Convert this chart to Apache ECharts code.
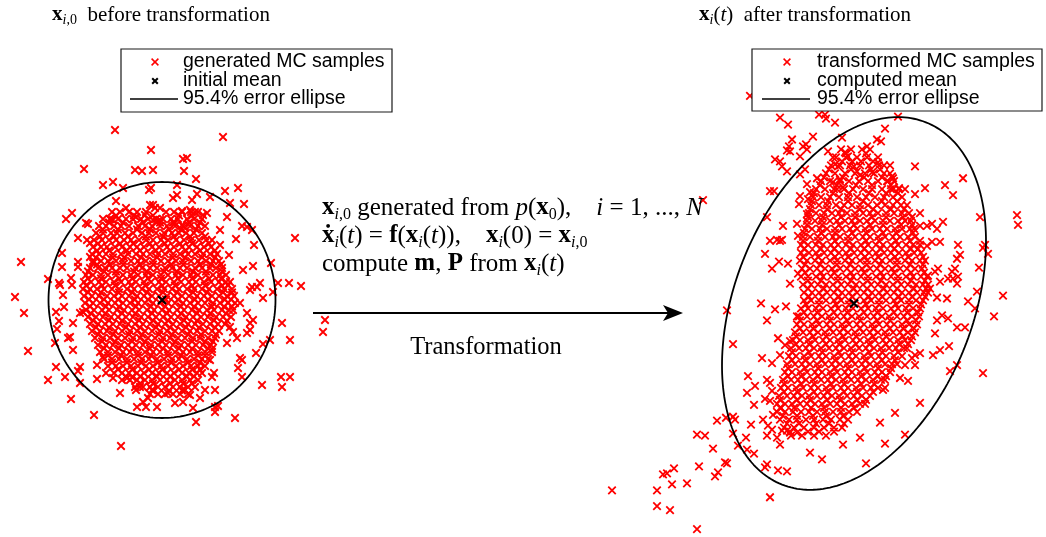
<!DOCTYPE html>
<html>
<head>
<meta charset="utf-8">
<title>Monte Carlo propagation of an initial distribution</title>
<script src="https://cdn.jsdelivr.net/npm/echarts@6/dist/echarts.min.js"></script>
<style>
  html, body { margin: 0; padding: 0; background: #fff; }
  #chart { width: 1046px; height: 537px; }
</style>
</head>
<body>
<div id="chart"></div>
<script>
// ---------------------------------------------------------------------------
// Samples x_{i,0} drawn from p(x0) (state units, mean near the origin)
// ---------------------------------------------------------------------------
const initialSamples = [
  [-4.7,17.0],[-1.1,15.0],[-7.8,13.1],[-2.7,13.0],[-2.0,12.9],[-0.9,13.0],[-5.9,11.5],[-4.9,11.8],[-3.9,11.2],[-1.3,11.0],
  [-1.1,11.2],[-4.6,9.9],[-3.6,9.2],[-0.9,9.5],[-0.7,9.2],[-9.6,8.1],[-9.0,8.7],[-7.6,7.7],[-7.4,7.6],[-5.2,8.1],
  [-4.9,8.0],[-2.6,8.3],[-1.7,8.5],[-0.9,8.0],[-8.4,6.2],[-7.5,6.0],[-7.2,5.7],[-14.1,3.8],[-10.0,4.7],[-10.0,3.3],
  [-8.4,3.8],[-8.4,3.3],[-9.1,2.2],[-11.4,2.1],[-10.3,1.7],[-7.2,4.3],[-6.9,3.7],
  [6.1,16.3],[2.1,14.1],[2.5,14.2],[2.2,12.9],[3.4,12.1],[1.5,11.5],[6.3,10.9],[7.6,11.2],[1.1,10.2],[1.5,10.5],
  [3.0,10.0],[3.5,10.6],[4.8,10.3],[6.8,9.7],[8.2,9.6],[2.0,8.9],[2.8,9.0],[3.3,8.8],[4.1,8.5],[4.5,8.7],
  [6.5,8.3],[8.0,7.4],[8.5,7.3],[9.0,7.0],[5.8,7.0],[7.4,6.1],[9.2,5.5],[13.3,6.2],[5.8,5.5],[6.7,4.5],
  [9.1,3.4],[10.9,3.7],[8.1,3.0],[9.8,1.7],[9.0,1.3],[11.6,1.7],[12.7,1.7],[13.9,1.4],[-0.2,9.2],[-1.2,9.5],
  [-0.2,8.0],[-0.5,7.8],[1.3,7.7],[2.0,7.5],[2.3,7.2],
  [-14.7,0.3],[-13.8,-1.3],[-13.4,-5.1],[-11.4,-8.0],[-10.6,-6.7],[-9.7,-7.7],[-9.1,-9.9],[-6.8,-11.5],[-4.1,-14.6],[-8.2,-6.7],
  [-8.4,-7.1],[-8.2,-8.3],[-8.9,-5.0],[-9.4,-3.8],[-9.2,-3.7],[-10.7,-4.3],[-10.5,-2.9],[-10.3,-2.1],[-8.9,-2.3],[-10.6,-1.2],
  [-9.8,-0.7],[-10.2,1.5],[-9.9,0.5],[-9.0,1.5],[-8.2,-1.3],[-7.9,-1.2],[-6.5,-7.9],[-5.6,-7.3],[-4.9,-7.8],[-4.2,-9.3],
  [-6.5,-6.5],[-5.9,-5.7],[-2.6,-9.0],[-2.2,-8.7],[-1.0,-9.0],[-2.5,-10.7],[-1.9,-10.2],[-1.4,-9.8],[-1.6,-10.7],[-3.5,-7.8],
  [-3.0,-7.7],
  [8.8,1.0],[9.5,1.3],[10.1,0.2],[11.1,0.8],[12.0,-2.3],[12.8,-4.0],[10.8,-4.0],[10.1,-4.4],[9.4,-5.3],[7.8,-5.8],
  [8.0,-6.0],[7.6,-6.8],[8.0,-7.7],[10.0,-8.5],[11.9,-7.7],[12.8,-7.7],[12.0,-8.7],[7.3,-11.8],[3.4,-12.2],[5.3,-10.7],
  [5.3,-11.2],[5.6,-10.6],[3.1,-10.8],[1.3,-10.3],[2.1,-10.2],[-0.5,-10.7],[0.6,-9.3],[2.3,-9.0],[2.8,-9.5],[3.8,-9.8],
  [4.3,-9.0],[5.3,-9.0],[5.2,-7.3],[5.0,-7.7],[4.8,-6.0],[5.0,-4.9],[6.5,-4.3],[7.5,-3.8],[8.5,-3.3],[8.8,-3.0],
  [8.5,-1.3],[9.1,-2.0],[8.8,-2.3],[6.8,-2.7],[7.1,-3.2],[7.8,-0.3],[16.3,-2.0],[16.1,-3.2]
];

// Dense centre of the initial cloud, one entry per row: [y, [x, x, ...]]
const initialCoreRows = [
  [8.8,  [-5.0,-4.2,-3.3,-2.5,-1.6,0.4,1.2,2.0,2.9,3.6]],
  [8.45, [-4.6,-2.8,-0.9,1.7,3.0]],
  [8.1,  [-5.9,-5.2,-4.4,-3.6,-2.9,-2.1,-1.4,-0.6,0.1,0.9,1.6,2.5,3.2,4.0]],
  [7.75, [-5.3,-3.9,-1.9,-0.2,1.1,2.7,3.8]],
  [7.4,  [-6.3,-5.6,-4.8,-4.1,-3.3,-2.4,-1.7,-1.0,-0.2,0.5,1.3,2.1,2.8,3.6,4.3]],
  [7.05, [-5.9,-4.4,-2.5,-1.2,0.7,1.9,3.4]],
  [6.7,  [-6.6,-5.9,-5.1,-4.5,-3.7,-2.9,-2.0,-1.3,-0.6,0.2,1.0,1.7,2.4,3.2,4.0]],
  [6.35, [-6.2,-4.8,-3.4,-1.6,0.1,1.2,2.8,4.3]],
  [6.0,  [-6.8,-6.0,-5.3,-4.6,-3.8,-3.1,-2.3,-1.6,-0.9,-0.1,0.6,1.4,2.2,2.9,3.7,4.4,5.0]],
  [5.65, [-6.4,-4.2,-2.9,-1.2,0.3,1.8,3.0,4.7]],
  [5.3,  [-6.9,-6.1,-5.5,-4.7,-4.0,-3.2,-2.5,-1.8,-1.0,-0.3,0.5,1.2,2.0,2.7,3.5,4.2,4.9]],
  [4.95, [-6.5,-5.3,-3.5,-2.2,-0.6,0.8,2.4,3.8,5.3]],
  [4.6,  [-7.0,-6.3,-5.6,-4.9,-4.1,-3.4,-2.6,-1.9,-1.2,-0.4,0.3,1.1,1.8,2.6,3.3,4.1,4.8,5.5]],
  [4.25, [-6.6,-4.9,-3.8,-2.1,-0.5,1.1,2.3,4.0,5.3]],
  [3.9,  [-6.9,-6.1,-5.4,-4.6,-3.9,-3.1,-2.4,-1.6,-0.9,-0.1,0.6,1.4,2.1,2.9,3.6,4.4,5.1,5.7]],
  [3.55, [-6.5,-5.2,-3.9,-2.2,-0.9,0.9,2.1,3.8,4.9,5.9]],
  [3.2,  [-7.2,-6.4,-5.7,-5.0,-4.2,-3.5,-2.7,-2.0,-1.2,-0.5,0.3,1.0,1.8,2.5,3.3,4.0,4.8,5.4,6.0]],
  [2.85, [-7.4,-5.8,-4.6,-2.8,-1.5,0.2,1.5,3.1,4.4,6.0]],
  [2.5,  [-7.6,-6.9,-6.1,-5.4,-4.6,-3.9,-3.1,-2.4,-1.6,-0.9,-0.1,0.6,1.4,2.1,2.9,3.6,4.4,5.1,5.8,6.4]],
  [2.15, [-7.4,-6.1,-4.3,-3.0,-1.4,-0.1,1.6,3.0,4.7,5.9]],
  [1.8,  [-7.8,-7.1,-6.3,-5.6,-4.8,-4.1,-3.3,-2.6,-1.8,-1.1,-0.3,0.4,1.2,1.9,2.7,3.4,4.2,4.9,5.7,6.4,6.8]],
  [1.45, [-7.6,-6.0,-4.7,-3.1,-1.7,0.0,1.3,3.0,4.3,6.0,6.6]],
  [1.1,  [-7.9,-7.2,-6.5,-5.8,-5.0,-4.3,-3.5,-2.8,-2.0,-1.3,-0.5,0.2,1.0,1.7,2.5,3.2,4.0,4.7,5.5,6.2,7.0]],
  [0.75, [-7.4,-6.1,-4.3,-3.0,-1.5,0.1,1.5,3.1,4.5,6.1,7.0]],
  [0.4,  [-7.8,-7.0,-6.3,-5.5,-4.8,-4.0,-3.3,-2.5,-1.8,-1.0,-0.3,0.5,1.2,2.0,2.7,3.5,4.2,5.0,5.7,6.5,7.2]],
  [0.05, [-7.3,-5.8,-4.4,-2.7,-1.4,0.4,1.6,3.3,4.6,6.3,6.9]],
  [-0.3, [-7.7,-6.9,-6.2,-5.4,-4.7,-3.9,-3.2,-2.4,-1.7,-0.9,-0.2,0.6,1.3,2.1,2.8,3.6,4.3,5.1,5.8,6.6,7.3]],
  [-0.65,[-7.2,-5.6,-4.3,-2.6,-1.1,0.3,1.9,3.2,5.0,6.2,7.0]],
  [-1.0, [-7.6,-6.8,-6.0,-5.3,-4.5,-3.8,-3.0,-2.3,-1.5,-0.8,0.0,0.7,1.5,2.2,3.0,3.7,4.5,5.2,6.0,6.7,7.1]],
  [-1.35,[-7.1,-5.7,-4.0,-2.7,-1.0,0.5,1.9,3.5,4.8,6.4]],
  [-1.7, [-7.4,-6.6,-5.9,-5.1,-4.4,-3.6,-2.9,-2.1,-1.4,-0.6,0.1,0.9,1.6,2.4,3.1,3.9,4.6,5.4,6.1,6.9]],
  [-2.05,[-6.9,-5.3,-4.0,-2.3,-0.9,0.6,2.2,3.5,5.2,6.5]],
  [-2.4, [-7.2,-6.4,-5.7,-4.9,-4.2,-3.4,-2.7,-1.9,-1.2,-0.4,0.3,1.1,1.8,2.6,3.3,4.1,4.8,5.6,6.3]],
  [-2.75,[-6.6,-5.3,-3.6,-2.2,-0.6,0.8,2.4,3.7,5.3]],
  [-3.1, [-7.0,-6.2,-5.5,-4.7,-4.0,-3.2,-2.5,-1.7,-1.0,-0.2,0.5,1.3,2.0,2.8,3.5,4.3,5.0,5.7]],
  [-3.45,[-6.4,-4.9,-3.3,-2.0,-0.3,1.0,2.6,3.9,5.4]],
  [-3.8, [-6.7,-5.9,-5.2,-4.4,-3.7,-2.9,-2.2,-1.4,-0.7,0.1,0.8,1.6,2.3,3.1,3.8,4.6,5.3]],
  [-4.15,[-6.0,-4.7,-3.0,-1.7,0.0,1.3,3.0,4.3,5.1]],
  [-4.5, [-6.4,-5.6,-4.9,-4.1,-3.4,-2.6,-1.9,-1.1,-0.4,0.4,1.1,1.9,2.6,3.4,4.1,4.9]],
  [-4.85,[-5.8,-4.3,-3.0,-1.2,0.1,1.7,3.0,4.6]],
  [-5.2, [-6.2,-5.4,-4.7,-3.9,-3.2,-2.4,-1.7,-0.9,-0.2,0.6,1.3,2.1,2.8,3.6,4.3,5.0]],
  [-5.55,[-5.4,-4.1,-2.4,-1.1,0.6,1.9,3.6,4.3]],
  [-5.9, [-5.8,-5.0,-4.3,-3.5,-2.8,-2.0,-1.3,-0.5,0.2,1.0,1.7,2.5,3.2,4.0,4.6]],
  [-6.25,[-5.0,-3.5,-2.1,-0.4,0.9,2.6,3.8]],
  [-6.6, [-5.4,-4.6,-3.9,-3.1,-2.4,-1.6,-0.9,-0.1,0.6,1.4,2.1,2.9,3.6,4.3]],
  [-6.95,[-4.4,-3.0,-1.3,0.0,1.7,3.0,3.8]],
  [-7.3, [-4.8,-4.0,-3.3,-2.5,-1.8,-1.0,-0.3,0.5,1.2,2.0,2.7,3.5,4.0]],
  [-7.65,[-3.6,-2.2,-0.5,0.8,2.5,3.2]],
  [-8.0, [-4.0,-3.2,-2.5,-1.7,-1.0,-0.2,0.5,1.3,2.0,2.8,3.6]],
  [-8.35,[-2.2,-0.9,0.8,2.1,3.0]],
  [-8.7, [-2.7,-1.9,-1.2,-0.4,0.3,1.1,1.8,2.6,3.3]],
  [-9.05,[-0.9,0.7,2.0]],
  [-9.4, [-1.2,-0.4,0.3,1.1,1.8,2.6]]
];

const initialMean = [0.0, 0.0];
const initialCov = [[32.2, 0.0], [0.0, 34.8]];

// ---------------------------------------------------------------------------
// Propagated samples x_i(t)
// ---------------------------------------------------------------------------
const transformedSamples = [
  [-10.4,20.9],[-7.4,18.7],[-6.6,18.0],[-3.5,19.0],[-2.9,19.0],[-2.8,18.6],[-1.9,18.2],[-1.2,16.7],[-6.2,16.5],[-6.5,15.8],
  [-6.7,15.4],[-6.4,15.3],[-5.1,15.8],[-4.7,15.5],[-4.8,16.0],[-4.1,16.8],[-7.9,14.5],[-7.4,14.3],[-7.2,13.8],[-6.7,13.3],
  [-5.4,14.8],[-4.9,13.5],[-5.4,13.0],[-3.7,12.6],[-2.6,15.3],[-2.1,14.7],[-1.9,14.0],[-1.6,13.8],[-0.9,15.2],[-0.6,14.8],
  [-0.2,14.3],[0.0,13.8],[0.3,13.3],[0.6,12.9],[1.3,15.8],[-8.4,11.3],[-8.0,11.3],[-5.4,10.8],[-4.6,10.5],[-4.4,11.2],
  [-4.7,12.0],[-2.1,12.2],[-1.4,12.5],[-1.7,11.5],[-1.1,11.7],[-5.5,10.0],[-4.7,9.0],[-8.7,8.7],[-7.1,7.8],[-7.7,6.4],
  [-7.2,6.4],[-8.4,6.3],[-5.7,8.0],[-5.6,6.8],[-15.1,10.4],
  [4.4,18.8],[3.1,17.6],[2.3,16.5],[2.7,16.3],[2.4,14.2],[3.6,13.9],[1.8,13.2],[6.1,13.8],[3.8,12.8],[3.9,12.6],
  [3.4,12.3],[5.1,11.5],[6.1,11.0],[7.1,11.6],[9.1,11.9],[9.9,10.9],[10.9,12.6],[5.8,8.7],[6.6,9.1],[12.6,8.7],
  [16.3,8.9],[16.4,7.9],[6.6,7.8],[7.3,7.8],[7.8,8.0],[8.3,7.5],[8.9,8.2],[6.6,6.3],[7.3,5.8],[7.8,6.2],
  [8.6,6.2],[10.4,5.9],[13.1,5.9],[12.9,5.6],[4.5,11.6],[3.9,11.5],
  [-7.4,6.3],[-8.9,5.0],[-7.5,4.2],[-8.2,3.5],[-6.6,4.0],[-6.4,2.0],[-5.6,3.0],[-9.3,0.0],[-7.9,-0.6],[-6.8,-0.3],
  [-8.7,-1.7],[-12.7,-0.7],[-12.1,-4.1],[-5.7,-1.3],[-7.6,-3.5],[-6.4,-3.8],[-6.9,-4.2],[-9.2,-5.5],[-8.2,-6.0],[-7.4,-5.2],
  [-10.6,-7.3],[-9.9,-8.3],[-10.7,-9.0],[-8.7,-7.7],[-8.4,-8.0],[-8.2,-8.8],
  [13.4,5.0],[10.6,4.9],[10.3,4.5],[12.5,3.6],[14.9,0.8],[12.3,1.2],[11.4,0.2],[12.1,-0.5],[14.0,-1.3],[8.4,3.5],
  [8.1,3.2],[7.4,2.8],[9.8,3.2],[10.1,3.5],[9.9,2.5],[10.4,2.7],[10.3,2.0],[9.4,2.5],[8.6,2.2],[9.3,0.5],
  [8.3,0.6],[7.6,1.5],[8.8,-1.2],[9.4,-1.5],[8.3,-1.7],[10.3,-2.4],[11.1,-2.4],[8.1,-3.0],[9.5,-4.3],[8.6,-4.7],
  [7.9,-5.2],[10.3,-6.2],[9.6,-6.8],[12.9,-7.0],[6.1,-5.2],[6.6,-5.0],[5.8,-5.5],[6.1,-6.2],[5.1,-6.2],[4.6,-7.5],
  [5.4,-7.8],[3.1,-8.5],[2.9,-8.7],
  [-24.2,-18.8],[-19.7,-18.8],[-18.2,-18.2],[-19.7,-20.4],[-18.4,-20.8],[-15.7,-22.7],[-19.1,-17.2],[-18.7,-17.1],[-18.0,-16.6],[-16.7,-18.1],
  [-15.5,-16.4],[-13.9,-17.4],[-13.6,-17.0],[-12.9,-16.0],[-12.7,-16.1],[-14.1,-14.6],[-15.7,-13.2],[-14.9,-13.3],[-13.7,-11.8],[-12.8,-11.5],
  [-12.1,-11.4],[-11.9,-11.7],[-12.1,-13.1],[-11.6,-14.3],[-10.7,-14.7],[-10.0,-15.1],[-10.8,-13.5],[-10.3,-12.2],[-10.0,-10.2],[-8.9,-9.6],
  [-8.4,-9.8],[-9.1,-11.7],[-8.6,-12.3],[-8.1,-11.2],[-7.4,-10.5],[-6.7,-12.8],[-7.2,-12.8],[-6.4,-13.0],[-5.7,-13.0],[-8.7,-13.3],
  [-7.7,-13.5],[-7.4,-14.2],[-8.2,-12.7],[-8.7,-16.2],[-8.9,-16.5],[-7.6,-16.8],[-6.7,-16.9],[-8.4,-19.5],
  [-4.4,-15.0],[-3.2,-15.7],[-1.1,-14.2],[1.2,-16.1],[3.1,-14.1],[5.1,-13.2],[0.6,-13.5],[2.6,-12.0],[4.1,-11.0],[6.6,-10.0]
];

// Dense centre of the propagated cloud: [y, [x, x, ...]]
const transformedCoreRows = [
  [15.5,  [-1.3,-0.3,0.8,1.6]],
  [15.1,  [-0.8,1.2]],
  [14.7,  [-1.8,-0.8,0.3,1.3,2.4]],
  [14.3,  [-1.2,0.7,1.9]],
  [13.9,  [-2.3,-1.4,-0.4,0.6,1.5,2.5,3.0]],
  [13.5,  [-2.5,-0.3,1.7,2.6]],
  [13.1,  [-2.8,-1.9,-0.9,0.1,1.1,2.0,3.0,3.6]],
  [12.7,  [-3.0,-1.1,1.0,2.8]],
  [12.3,  [-3.3,-2.4,-1.4,-0.5,0.5,1.4,2.4,3.3,4.0]],
  [11.9,  [-3.4,-1.7,0.2,1.8,3.7]],
  [11.5,  [-3.8,-2.9,-2.0,-1.0,-0.1,0.9,1.8,2.8,3.7,4.5]],
  [11.1,  [-4.0,-2.1,-0.5,1.5,3.2,4.4]],
  [10.7,  [-4.1,-3.3,-2.4,-1.5,-0.6,0.3,1.2,2.1,3.0,3.9,4.8]],
  [10.3,  [-4.2,-2.6,-0.6,0.9,2.8,4.3]],
  [9.9,   [-4.3,-3.5,-2.7,-1.8,-1.0,-0.2,0.6,1.4,2.3,3.1,3.9,4.7,5.3]],
  [9.5,   [-4.4,-2.7,-1.3,0.6,1.9,3.7,5.0]],
  [9.1,   [-4.5,-3.8,-3.0,-2.2,-1.5,-0.7,0.1,0.9,1.6,2.4,3.2,4.0,4.8,5.5]],
  [8.7,   [-4.6,-3.1,-1.3,0.1,1.8,3.2,4.9]],
  [8.3,   [-4.7,-3.9,-3.2,-2.4,-1.7,-0.9,-0.2,0.6,1.3,2.1,2.9,3.6,4.4,5.1,5.7]],
  [7.9,   [-4.7,-3.2,-1.5,0.0,1.6,2.9,4.7,5.8]],
  [7.5,   [-4.9,-4.2,-3.4,-2.7,-1.9,-1.2,-0.4,0.3,1.1,1.8,2.6,3.3,4.1,4.8,5.6,6.0]],
  [7.1,   [-5.0,-3.3,-1.9,-0.2,1.2,2.9,4.2,5.9]],
  [6.7,   [-5.1,-4.4,-3.6,-2.9,-2.1,-1.4,-0.6,0.1,0.9,1.6,2.4,3.1,3.9,4.6,5.4,6.1]],
  [6.3,   [-5.1,-3.6,-1.9,-0.6,1.2,2.5,4.2,5.6]],
  [5.9,   [-5.3,-4.6,-3.8,-3.1,-2.3,-1.6,-0.8,-0.1,0.7,1.4,2.2,2.9,3.7,4.4,5.2,5.9,6.6]],
  [5.5,   [-5.0,-3.3,-2.0,-0.3,1.0,2.7,4.0,5.7,6.4]],
  [5.1,   [-5.3,-4.5,-3.8,-3.0,-2.3,-1.5,-0.8,0.0,0.7,1.5,2.2,3.0,3.7,4.5,5.2,6.0,6.7]],
  [4.7,   [-5.1,-3.6,-1.9,-0.6,1.1,2.4,4.1,5.4,6.9]],
  [4.3,   [-5.4,-4.7,-3.9,-3.2,-2.4,-1.7,-0.9,-0.2,0.6,1.3,2.1,2.8,3.6,4.3,5.1,5.8,6.6,7.1]],
  [3.9,   [-4.9,-3.4,-1.7,-0.4,1.3,2.6,4.3,5.6,6.9]],
  [3.5,   [-5.2,-4.4,-3.7,-2.9,-2.2,-1.4,-0.7,0.1,0.8,1.6,2.3,3.1,3.8,4.6,5.3,6.1,6.8]],
  [3.1,   [-4.9,-3.3,-2.0,-0.3,1.0,2.7,4.0,5.7,7.0]],
  [2.7,   [-5.3,-4.6,-3.8,-3.1,-2.3,-1.6,-0.8,-0.1,0.7,1.4,2.2,2.9,3.7,4.4,5.2,5.9,6.7,7.3]],
  [2.3,   [-4.6,-3.3,-1.6,-0.3,1.4,2.7,4.4,5.7,7.1]],
  [1.9,   [-5.1,-4.3,-3.6,-2.8,-2.1,-1.3,-0.6,0.2,0.9,1.7,2.4,3.2,3.9,4.7,5.4,6.2,6.9,7.4]],
  [1.5,   [-4.6,-3.0,-1.7,0.0,1.3,3.0,4.3,6.0,7.2]],
  [1.1,   [-5.0,-4.2,-3.5,-2.7,-2.0,-1.2,-0.5,0.3,1.0,1.8,2.5,3.3,4.0,4.8,5.5,6.3,7.0,7.4]],
  [0.7,   [-4.5,-3.2,-1.5,-0.2,1.5,2.8,4.5,5.8,7.1]],
  [0.3,   [-5.0,-4.3,-3.5,-2.8,-2.0,-1.3,-0.5,0.2,1.0,1.7,2.5,3.2,4.0,4.7,5.5,6.2,6.9]],
  [-0.1,  [-4.8,-3.5,-1.8,-0.5,1.2,2.5,4.2,5.5,6.7]],
  [-0.5,  [-5.3,-4.6,-3.8,-3.1,-2.3,-1.6,-0.8,-0.1,0.7,1.4,2.2,2.9,3.7,4.4,5.2,5.9,6.6]],
  [-0.9,  [-5.0,-3.7,-2.0,-0.7,1.0,2.3,4.0,5.3,6.4]],
  [-1.3,  [-5.5,-4.7,-4.0,-3.2,-2.5,-1.7,-1.0,-0.2,0.5,1.3,2.0,2.8,3.5,4.3,5.0,5.8,6.5]],
  [-1.7,  [-5.4,-3.7,-2.4,-0.7,0.6,2.3,3.6,5.3,6.2]],
  [-2.1,  [-5.7,-5.0,-4.2,-3.5,-2.7,-2.0,-1.2,-0.5,0.3,1.0,1.8,2.5,3.3,4.0,4.8,5.5,6.3]],
  [-2.5,  [-5.4,-4.1,-2.4,-1.1,0.6,1.9,3.6,4.9,6.0]],
  [-2.9,  [-5.9,-5.1,-4.4,-3.6,-2.9,-2.1,-1.4,-0.6,0.1,0.9,1.6,2.4,3.1,3.9,4.6,5.4,6.1]],
  [-3.3,  [-5.8,-4.1,-2.8,-1.1,0.2,1.9,3.2,4.9,5.8]],
  [-3.7,  [-6.1,-5.4,-4.6,-3.9,-3.1,-2.4,-1.6,-0.9,-0.1,0.6,1.4,2.1,2.9,3.6,4.4,5.1,5.7]],
  [-4.1,  [-5.8,-4.5,-2.8,-1.5,0.2,1.5,3.2,4.5,5.4]],
  [-4.5,  [-6.3,-5.5,-4.8,-4.0,-3.3,-2.5,-1.8,-1.0,-0.3,0.5,1.2,2.0,2.7,3.5,4.2,5.0,5.3]],
  [-4.9,  [-6.2,-4.5,-3.2,-1.5,-0.2,1.5,2.8,4.4]],
  [-5.3,  [-6.5,-5.8,-5.0,-4.3,-3.5,-2.8,-2.0,-1.3,-0.5,0.2,1.0,1.7,2.5,3.2,4.0,4.8]],
  [-5.7,  [-6.2,-4.9,-3.2,-1.9,-0.2,1.1,2.8,4.1]],
  [-6.1,  [-6.7,-5.9,-5.2,-4.4,-3.7,-2.9,-2.2,-1.4,-0.7,0.1,0.8,1.6,2.3,3.1,3.8,4.3]],
  [-6.5,  [-6.6,-4.9,-3.6,-1.9,-0.6,1.1,2.4,3.7]],
  [-6.9,  [-6.9,-6.2,-5.4,-4.7,-3.9,-3.2,-2.4,-1.7,-0.9,-0.2,0.6,1.3,2.1,2.8,3.6]],
  [-7.3,  [-6.6,-5.3,-3.6,-2.3,-0.6,0.7,2.4,3.2]],
  [-7.7,  [-7.1,-6.3,-5.6,-4.8,-4.1,-3.3,-2.6,-1.8,-1.1,-0.3,0.4,1.2,1.9,2.7,3.1]],
  [-8.1,  [-7.0,-5.3,-4.0,-2.3,-1.0,0.7,2.0]],
  [-8.5,  [-7.3,-6.6,-5.8,-5.1,-4.3,-3.6,-2.8,-2.1,-1.3,-0.6,0.2,0.9,1.7,2.4]],
  [-8.9,  [-7.0,-5.7,-4.0,-2.7,-1.0,0.3,1.9]],
  [-9.3,  [-7.5,-6.7,-6.0,-5.2,-4.5,-3.7,-3.0,-2.2,-1.5,-0.7,0.0,0.8,1.6]],
  [-9.7,  [-7.4,-5.7,-4.4,-2.7,-1.4,0.3,1.2]],
  [-10.1, [-7.7,-6.9,-6.2,-5.4,-4.7,-3.9,-3.2,-2.4,-1.7,-0.9,-0.2,0.6,1.1]],
  [-10.5, [-7.3,-6.0,-4.3,-3.0,-1.3,0.0]],
  [-10.9, [-7.7,-6.9,-6.1,-5.3,-4.5,-3.7,-2.9,-2.1,-1.3,-0.5,0.3]],
  [-11.3, [-7.1,-5.7,-4.1,-2.8,-1.1]],
  [-11.7, [-7.4,-6.5,-5.7,-4.8,-4.0,-3.1,-2.3,-1.4,-0.6]],
  [-12.1, [-6.7,-5.5,-3.8,-2.5,-1.0]],
  [-12.5, [-7.0,-6.0,-5.0,-4.0,-3.0,-2.0,-1.2]],
  [-12.9, [-6.4,-4.6,-3.5,-2.0]],
  [-13.3, [-6.3,-5.2,-4.0,-2.8]]
];

const computedMean = [0.0, 0.0];
const computedCov = [[43.56, 20.6], [20.6, 87.9]];

// 95.4 % region = 2 standard deviations
const sigmaLevel = 2;

// ---------------------------------------------------------------------------
function expandRows(rows) {
  const out = [];
  rows.forEach(function (row) {
    row[1].forEach(function (x) { out.push([x, row[0]]); });
  });
  return out;
}

// k-sigma contour of a 2-D Gaussian with mean m and covariance P
function errorEllipse(m, P, k, n) {
  const a = Math.sqrt(P[0][0]);
  const b = P[0][1] / a;
  const c = Math.sqrt(P[1][1] - b * b);
  const pts = [];
  for (let i = 0; i <= n; i++) {
    const t = 2 * Math.PI * i / n;
    const u = Math.cos(t), v = Math.sin(t);
    pts.push([m[0] + k * a * u, m[1] + k * (b * u + c * v)]);
  }
  return pts;
}

const CROSS = 'path://M0,0L10,10M10,0L0,10';
const RED = '#ff0000';
const SERIF = '"Liberation Serif", "Times New Roman", serif';
const SANS = '"Liberation Sans", Arial, Helvetica, sans-serif';

function sampleSeries(name, idx, data) {
  return {
    name: name, type: 'scatter', xAxisIndex: idx, yAxisIndex: idx,
    data: data, symbol: CROSS, symbolSize: 7.5, clip: false,
    progressive: 0, silent: true, z: 2,
    itemStyle: { color: 'rgba(0,0,0,0)', borderColor: RED, borderWidth: 1.8, opacity: 1 }
  };
}
function ellipseSeries(name, idx, m, P) {
  return {
    name: name, type: 'line', xAxisIndex: idx, yAxisIndex: idx,
    data: errorEllipse(m, P, sigmaLevel, 240), showSymbol: false, symbol: 'none',
    smooth: false, clip: false, silent: true, z: 3,
    lineStyle: { color: '#000', width: 1.8 }
  };
}
function meanSeries(name, idx, m) {
  return {
    name: name, type: 'scatter', xAxisIndex: idx, yAxisIndex: idx,
    data: [m], symbol: CROSS, symbolSize: 8, clip: false, silent: true, z: 4,
    itemStyle: { color: 'rgba(0,0,0,0)', borderColor: '#000', borderWidth: 2.2, opacity: 1 }
  };
}

// ----- text helpers -------------------------------------------------------
function mathRich(size, sub, lh) {
  return {
    n:  { fontFamily: SERIF, fontSize: size, lineHeight: lh, fill: '#000' },
    b:  { fontFamily: SERIF, fontSize: size, lineHeight: lh, fontWeight: 'bold', fill: '#000' },
    it: { fontFamily: SERIF, fontSize: size, lineHeight: lh, fontStyle: 'italic', fill: '#000' },
    s:  { fontFamily: SERIF, fontSize: sub, lineHeight: sub, verticalAlign: 'bottom', fill: '#000' },
    si: { fontFamily: SERIF, fontSize: sub, lineHeight: sub, verticalAlign: 'bottom', fontStyle: 'italic', fill: '#000' }
  };
}
function mathText(x, y, text, size, sub, lh, align) {
  return {
    type: 'text', x: x, y: y, z: 100, silent: true,
    style: {
      text: text, rich: mathRich(size, sub, lh),
      fontFamily: SERIF, fontSize: size, lineHeight: lh,
      align: align || 'left', verticalAlign: 'top', fill: '#000'
    }
  };
}
function crossMark(cx, cy, half, color, width) {
  return [
    { type: 'line', z: 101, silent: true, shape: { x1: cx - half, y1: cy - half, x2: cx + half, y2: cy + half }, style: { stroke: color, lineWidth: width } },
    { type: 'line', z: 101, silent: true, shape: { x1: cx - half, y1: cy + half, x2: cx + half, y2: cy - half }, style: { stroke: color, lineWidth: width } }
  ];
}
function legendBox(x, y, w, h, markX, textX, labels) {
  const rows = [62, 81, 99];
  const els = [
    { type: 'rect', z: 100, silent: true, shape: { x: x, y: y, width: w, height: h },
      style: { fill: '#fff', stroke: '#1a1a1a', lineWidth: 1.2 } }
  ];
  els.push.apply(els, crossMark(markX, rows[0], 3.4, RED, 1.5));
  els.push.apply(els, crossMark(markX, rows[1], 2.8, '#000', 2));
  els.push({ type: 'line', z: 101, silent: true,
    shape: { x1: markX - 25, y1: rows[2], x2: markX + 23, y2: rows[2] },
    style: { stroke: '#000', lineWidth: 1.4 } });
  labels.forEach(function (t, i) {
    els.push({ type: 'text', x: textX, y: rows[i], z: 101, silent: true,
      style: { text: t, fontFamily: SANS, fontSize: 19.5, fill: '#000', align: 'left', verticalAlign: 'middle' } });
  });
  return els;
}

const legendLeft = ['generated MC samples', 'initial mean', '95.4% error ellipse'];
const legendRight = ['transformed MC samples', 'computed mean', '95.4% error ellipse'];

const graphics = [].concat(
  [
    mathText(52, 3, '{b|x}{si|i}{s|,0}{n|  before transformation}', 21, 14, 24),
    mathText(699, 3, '{b|x}{si|i}{n|(}{it|t}{n|)  after transformation}', 21, 14, 24),
    mathText(322, 193, '{b|x}{si|i}{s|,0}{n| generated from }{it|p}{n|(}{b|x}{s|0}{n|),    }{it|i}{n| = 1, ..., }{it|N}', 25, 16, 30),
    mathText(322, 221, '{b|ẋ}{si|i}{n|(}{it|t}{n|) = }{b|f}{n|(}{b|x}{si|i}{n|(}{it|t}{n|)),    }{b|x}{si|i}{n|(0) = }{b|x}{si|i}{s|,0}', 25, 16, 30),
    mathText(322, 249, '{n|compute }{b|m}{n|, }{b|P}{n| from }{b|x}{si|i}{n|(}{it|t}{n|)}', 25, 16, 30),
    mathText(486, 333, '{n|Transformation}', 24.5, 16, 30, 'center'),
    { type: 'line', z: 100, silent: true, shape: { x1: 313, y1: 313, x2: 670, y2: 313 },
      style: { stroke: '#000', lineWidth: 1.8 } },
    { type: 'polygon', z: 100, silent: true,
      shape: { points: [[683, 313], [663, 305], [668, 313], [663, 321]] },
      style: { fill: '#000' } }
  ],
  legendBox(121, 49, 271, 63, 155, 183, legendLeft),
  legendBox(752, 49, 290, 62, 787, 817, legendRight)
);

const chart = echarts.init(document.getElementById('chart'), null, { renderer: 'canvas' });
chart.setOption({
  animation: false,
  backgroundColor: '#fff',
  grid: [
    { left: 0, top: 100, width: 340, height: 380 },
    { left: 600, top: 60, width: 440, height: 480 }
  ],
  xAxis: [
    { type: 'value', gridIndex: 0, min: -16.2, max: 17.8, show: false, splitLine: { show: false } },
    { type: 'value', gridIndex: 1, min: -25.4, max: 18.6, show: false, splitLine: { show: false } }
  ],
  yAxis: [
    { type: 'value', gridIndex: 0, min: -18, max: 20, show: false, splitLine: { show: false } },
    { type: 'value', gridIndex: 1, min: -23.5, max: 24.5, show: false, splitLine: { show: false } }
  ],
  series: [
    sampleSeries('generated MC samples', 0, initialSamples.concat(expandRows(initialCoreRows))),
    ellipseSeries('95.4% error ellipse', 0, initialMean, initialCov),
    meanSeries('initial mean', 0, initialMean),
    sampleSeries('transformed MC samples', 1, transformedSamples.concat(expandRows(transformedCoreRows))),
    ellipseSeries('95.4% error ellipse ', 1, computedMean, computedCov),
    meanSeries('computed mean', 1, computedMean)
  ],
  graphic: graphics
});
</script>
</body>
</html>
